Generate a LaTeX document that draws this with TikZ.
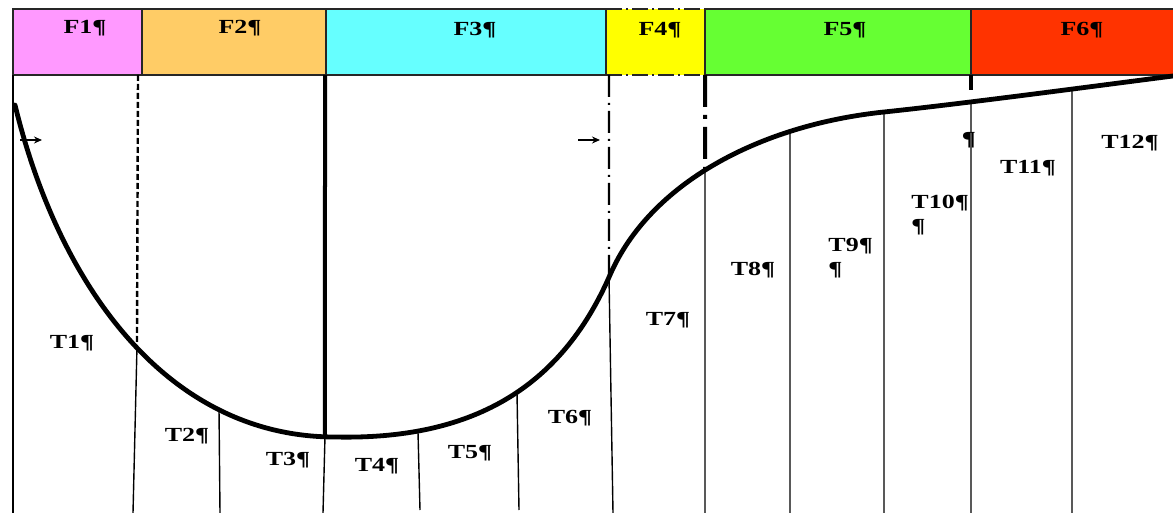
\documentclass[tikz,border=0pt]{standalone}
\usepackage{fontspec}
\setmainfont{Liberation Serif}[FakeStretch=1.3]
\usetikzlibrary{arrows.meta,intersections}
\definecolor{pinkF}{HTML}{FF99FF}
\definecolor{orangeF}{HTML}{FFCC66}
\definecolor{cyanF}{HTML}{66FFFF}
\definecolor{yellowF}{HTML}{FFFF00}
\definecolor{greenF}{HTML}{66FF33}
\definecolor{redF}{HTML}{FF3300}

\begin{document}
\begin{tikzpicture}[x=0.5pt,y=-0.5pt,
 bandbox/.style={draw=black!85,line width=.7pt},
 tag/.style={font=\fontsize{10}{12}\selectfont\bfseries,inner sep=0pt,align=left},
 divider/.style={line width=.7pt},
 heavydiv/.style={line width=2pt},
 dashdiv/.style={line width=1.2pt,dash pattern=on 3pt off 1.5pt},
 dotdiv/.style={line width=1.2pt,dash pattern=on 11pt off 3pt on 1pt off 3pt},
 curve/.style={line width=2.4pt,line join=round,line cap=round},
 pointer/.style={-{Stealth[length=4pt,width=3.5pt]},line width=.6pt}]
\useasboundingbox (0,0) rectangle (1173,513);

% phase band
\fill[pinkF] (13,9) rectangle (142,75);
\fill[orangeF] (142,9) rectangle (326,75);
\fill[cyanF] (326,9) rectangle (606,75);
\fill[yellowF] (606,9) rectangle (705,75);
\fill[greenF] (705,9) rectangle (971,75);
\fill[redF] (971,9) rectangle (1173,75);
\draw[bandbox] (606,9) -- (13,9) -- (13,75) -- (606,75);
\draw[bandbox] (705,9) -- (1173,9);
\draw[bandbox] (705,75) -- (1173,75);
\draw[bandbox,dash pattern=on 8pt off 2pt on 1pt off 2pt] (606,9) -- (705,9) (606,75) -- (705,75);
\foreach \x in {142,326,606,705,971} \draw[bandbox] (\x,9) -- (\x,75);

\node[tag] (f1) at (85,28) {F1¶};
\node[tag] (f2) at (240,28) {F2¶};
\node[tag] (f3) at (475,30) {F3¶};
\node[tag] (f4) at (660,30) {F4¶};
\node[tag] (f5) at (845,30) {F5¶};
\node[tag] (f6) at (1082,30) {F6¶};

% the curve
\coordinate (k0) at (15,105);
\coordinate (kmin) at (335,437);
\coordinate (kup) at (610,275);
\coordinate (kflat) at (884,112);
\coordinate (kend) at (1173,76);
\path[name path=curvepath] (k0) .. controls (60,290) and (170,437) .. (kmin)
  .. controls (470,440) and (560,390) .. (kup)
  .. controls (650,183) and (760,125) .. (kflat)
  .. controls (960,104) and (1080,88) .. (kend);

% where the dividers meet the curve
\foreach \x [count=\i] in {137,219,325,418,517,609,705,790,884,971,1072} {
  \path[name path=cut\i] (\x,60) -- (\x,520);
  \path[name intersections={of=curvepath and cut\i,by={k\i}}];
}

% tops and feet of the dividers
\coordinate (t0) at (13,75);   \coordinate (b0) at (13,513);
\coordinate (t1) at (138,75);  \coordinate (b1) at (133,513);
\coordinate (b2) at (220,513);
\coordinate (t3) at (325,75);  \coordinate (b3) at (323,513);
\coordinate (b4) at (420,510);
\coordinate (b5) at (519,510);
\coordinate (t6) at (609,75);  \coordinate (b6) at (613,513);
\coordinate (t7) at (705,75);  \coordinate (b7) at (705,513);
\coordinate (b8) at (790,513);
\coordinate (b9) at (884,513);
\coordinate (t10) at (971,75); \coordinate (m10) at (971,90); \coordinate (b10) at (971,513);
\coordinate (b11) at (1072,513);

\draw[divider] (t0) -- (b0);
\draw[dashdiv] (t1) -- (k1);
\draw[divider] (k1) -- (b1);
\draw[divider] (k2) -- (b2);
\draw[heavydiv] (t3) -- (k3);
\draw[divider] (k3) -- (b3);
\draw[divider] (k4) -- (b4);
\draw[divider] (k5) -- (b5);
\draw[dotdiv] (t6) -- (k6);
\draw[divider] (k6) -- (b6);
\draw[heavydiv,dash pattern=on 16pt off 4pt on 2pt off 4pt] (t7) -- (k7);
\draw[divider] (k7) -- (b7);
\draw[divider] (k8) -- (b8);
\draw[divider] (k9) -- (b9);
\draw[heavydiv] (t10) -- (m10);
\draw[divider] (k10) -- (b10);
\draw[divider] (k11) -- (b11);

\draw[curve] (k0) .. controls (60,290) and (170,437) .. (kmin)
  .. controls (470,440) and (560,390) .. (kup)
  .. controls (650,183) and (760,125) .. (kflat)
  .. controls (960,104) and (1080,88) .. (kend);

% arrows
\coordinate (a1) at (20,140);  \coordinate (a2) at (42,140);
\coordinate (a3) at (578,140); \coordinate (a4) at (600,140);
\draw[pointer] (a1) -- (a2);
\draw[pointer] (a3) -- (a4);

% time slots
\node[tag] (t1l) at (72,343) {T1¶};
\node[tag] (t2l) at (187,436) {T2¶};
\node[tag] (t3l) at (288,460) {T3¶};
\node[tag] (t4l) at (377,466) {T4¶};
\node[tag] (t5l) at (470,453) {T5¶};
\node[tag] (t6l) at (570,418) {T6¶};
\node[tag] (t7l) at (668,320) {T7¶};
\node[tag] (t8l) at (753,270) {T8¶};
\node[tag,anchor=north west] (t9l) at (828,238) {T9¶\\¶};
\node[tag,anchor=north west] (t10l) at (911,195) {T10¶\\¶};
\node[tag] (p10) at (969,140) {¶};
\node[tag] (t11l) at (1028,168) {T11¶};
\node[tag] (t12l) at (1130,143) {T12¶};
\end{tikzpicture}
\end{document}
